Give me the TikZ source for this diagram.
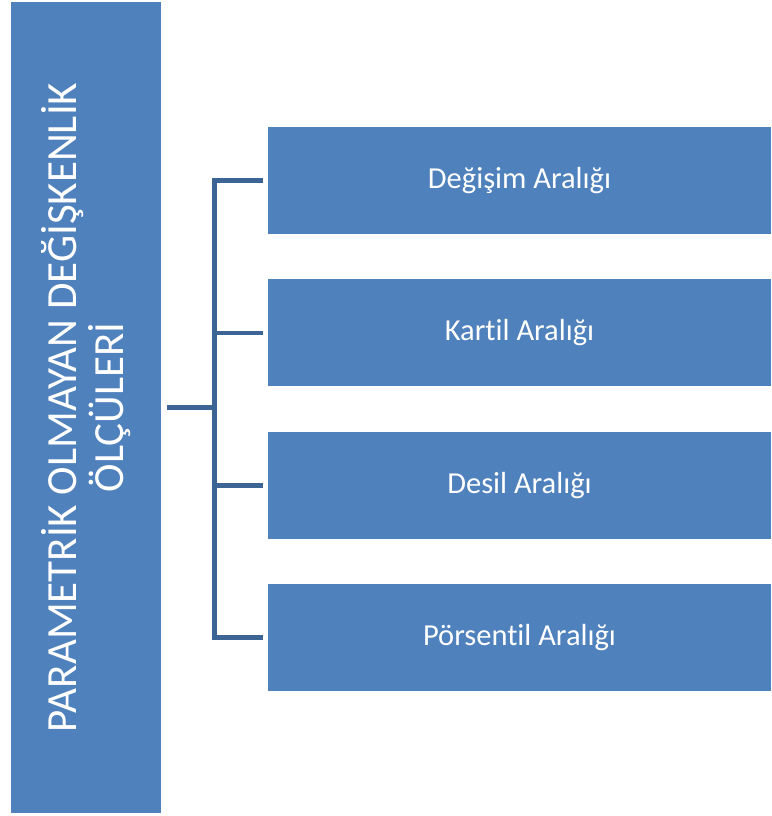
\documentclass[tikz,border=0pt]{standalone}
\usepackage{fontspec}
\setmainfont[Ligatures=NoCommon]{Carlito}
\usetikzlibrary{
  positioning,
  calc
}
\definecolor{boxblue}{HTML}{4F81BD}
\definecolor{lineblue}{HTML}{3C6494}

\begin{document}
\begin{tikzpicture}[
  x = 1pt, y = -1pt,
  % ── Main (rotated) block ────────────────────────────────
  mainbox/.style={
    rectangle,
    fill           = boxblue,
    rotate         = 90,
    minimum width  = 811pt,
    minimum height = 150pt,
    inner sep      = 0pt,
    text           = white,
    align          = center,
    font           = \fontsize{43}{47}\selectfont
  },
  % ── Item block ──────────────────────────────────────────
  itembox/.style={
    rectangle,
    fill           = boxblue,
    minimum width  = 503pt,
    minimum height = 107pt,
    inner sep      = 0pt,
    text           = white,
    font           = \fontsize{30.5}{34}\selectfont
  },
  % ── Connector ───────────────────────────────────────────
  conn/.style={
    draw        = lineblue,
    line width  = 4.5pt,
    line join   = miter
  }
]
\useasboundingbox (0,0) rectangle (771,816);

% ── Nodes ──────────────────────────────────────────────────
\node[mainbox] (main) at (86,407.5)
  {PARAMETRİK OLMAYAN DEĞİŞKENLİK\\ÖLÇÜLERİ};
\node[itembox] (degisim) at (519.5,180.5) {Değişim Aralığı};
\node[itembox, below=45pt of degisim] (kartil)    {Kartil Aralığı};
\node[itembox, below=45pt of kartil]  (desil)     {Desil Aralığı};
\node[itembox, below=45pt of desil]   (porsentil) {Pörsentil Aralığı};

\coordinate (bus) at (214.5,407.5);

% ── Connectors ─────────────────────────────────────────────
\draw[conn, shorten <=6pt] (main.south) -- (bus);
\draw[conn, shorten <=4.5pt, shorten >=4.5pt]
  (degisim.west) -- (bus |- degisim) -- (bus |- porsentil) -- (porsentil.west);
\foreach \t in {kartil, desil}
  \draw[conn, shorten >=4.5pt] (bus |- \t) -- (\t.west);

\end{tikzpicture}
\end{document}
